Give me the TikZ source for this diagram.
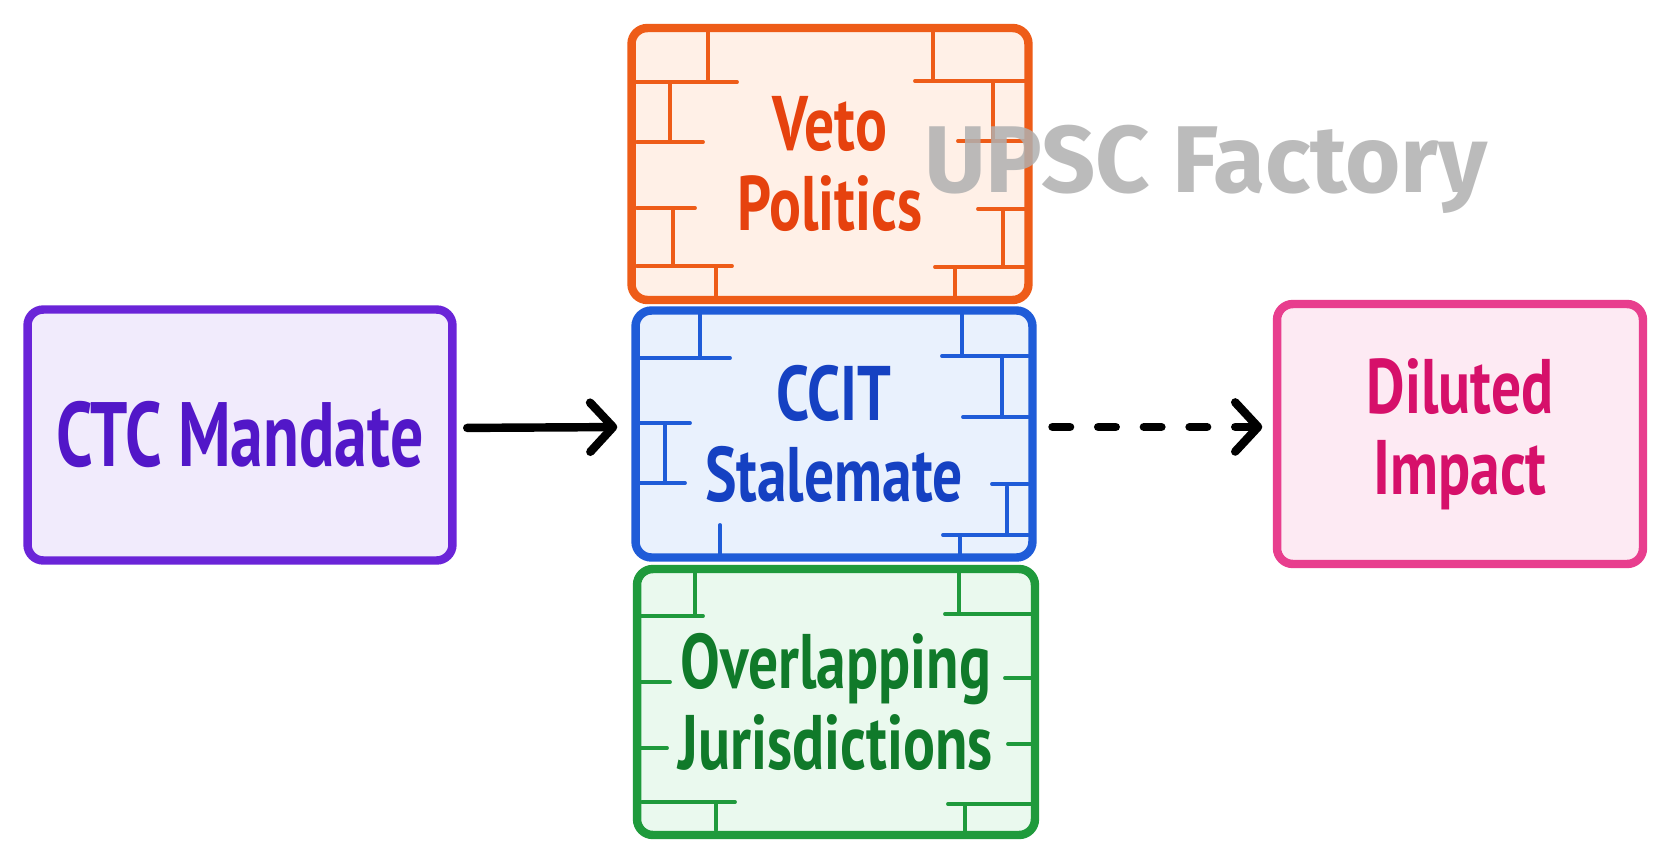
\documentclass[tikz,border=0pt]{standalone}
\usepackage{fontspec}
\usetikzlibrary{arrows.meta}
\newfontfamily\handfont[FakeStretch=0.77]{PT Sans}
\newfontfamily\handnarrow[FakeStretch=0.72]{PT Sans}
\newfontfamily\markfont{Fira Sans}

\definecolor{ctcline}{HTML}{6A24D8}
\definecolor{ctcfill}{HTML}{F1EBFC}
\definecolor{ctctext}{HTML}{5217C8}
\definecolor{vetoline}{HTML}{EE5C18}
\definecolor{vetofill}{HTML}{FFF0E7}
\definecolor{vetotext}{HTML}{E6420E}
\definecolor{ccitline}{HTML}{1F5CD8}
\definecolor{ccitfill}{HTML}{E9F1FD}
\definecolor{ccittext}{HTML}{1541C2}
\definecolor{overline}{HTML}{1F9A3C}
\definecolor{overfill}{HTML}{EAF9EE}
\definecolor{overtext}{HTML}{107A2A}
\definecolor{dilline}{HTML}{E83E8E}
\definecolor{dilfill}{HTML}{FDEAF3}
\definecolor{diltext}{HTML}{D6106A}

\tikzset{
  box/.style={draw, line width=4.8pt, rounded corners=9pt, align=center,
              font=\handfont\bfseries\fontsize{44}{46}\selectfont},
  brick/.style={line width=2.2pt, line cap=round},
  flow/.style={line width=4.8pt, line cap=round,
               -{Straight Barb[length=13pt,width=28pt,line width=4.8pt,line cap=round,line join=round]}},
}

\begin{document}
\begin{tikzpicture}[x=0.02cm, y=-0.02cm]
  \useasboundingbox[fill=white] (0,0) rectangle (1671,862);

  % the five boxes
  \node[box, draw=ctcline, fill=ctcfill, text=ctctext, minimum width=8.5cm, minimum height=5.02cm,
        font=\handnarrow\bfseries\fontsize{52}{54}\selectfont] (ctc) at (240,435) {CTC Mandate};
  \node[box, draw=vetoline, fill=vetofill, text=vetotext, minimum width=7.94cm, minimum height=5.44cm] (veto) at (830,164) {Veto\\Politics};
  \node[box, draw=ccitline, fill=ccitfill, text=ccittext, minimum width=7.94cm, minimum height=4.94cm] (ccit) at (834,434) {CCIT\\Stalemate};
  \node[box, draw=overline, fill=overfill, text=overtext, minimum width=7.96cm, minimum height=5.32cm] (over) at (836,702) {Overlapping\\Jurisdictions};
  \node[box, draw=dilline, fill=dilfill, text=diltext, minimum width=7.32cm, minimum height=5.2cm] (dil) at (1460,434) {Diluted\\Impact};

  % bricks
  \foreach \xa/\ya/\xb/\yb in {708/32/708/82, 635/82/737/82, 670/83/670/140, 637/142/703/142,
      637/208/695/208, 673/210/673/265, 637/266/732/266, 716/267/716/297,
      933/32/933/80, 915/81/1025/81, 993/83/993/140, 958/141/1025/141,
      978/209/1025/209, 1003/210/1003/265, 935/267/1025/267, 955/268/955/297}
    \draw[brick, vetoline] (\xa,\ya) -- (\xb,\yb);
  \foreach \xa/\ya/\xb/\yb in {700/313/700/358, 637/358/730/358, 638/423/690/423, 665/425/665/483,
      638/483/685/483, 720/525/720/558,
      962/312/962/355, 942/356/1028/356, 1002/358/1002/415, 963/417/1028/417,
      992/484/1028/484, 1007/487/1007/533, 943/535/1028/535, 960/537/960/558}
    \draw[brick, ccitline] (\xa,\ya) -- (\xb,\yb);
  \foreach \xa/\ya/\xb/\yb in {695/572/695/615, 638/616/703/616, 640/682/670/682, 640/748/667/748,
      642/802/735/802, 716/803/716/830,
      959/570/959/613, 945/614/1032/614, 1005/678/1032/678, 1008/744/1032/744,
      948/804/1032/804, 965/806/965/832}
    \draw[brick, overline] (\xa,\ya) -- (\xb,\yb);

  % connectors
  \draw[flow, shorten <=6pt, shorten >=8pt] ([yshift=4pt]ctc.east) -- ([yshift=4pt]ccit.west);
  \draw[flow, dash pattern=on 10pt off 16pt, shorten <=9pt, shorten >=6pt] ([yshift=4pt]ccit.east) -- ([yshift=4pt]dil.west);

  % watermark
  \node[font=\markfont\bfseries\fontsize{54}{54}\selectfont, text=black!31, text opacity=0.85,
        anchor=base] (mark) at (1206,192) {UPSC Factory};
\end{tikzpicture}
\end{document}
